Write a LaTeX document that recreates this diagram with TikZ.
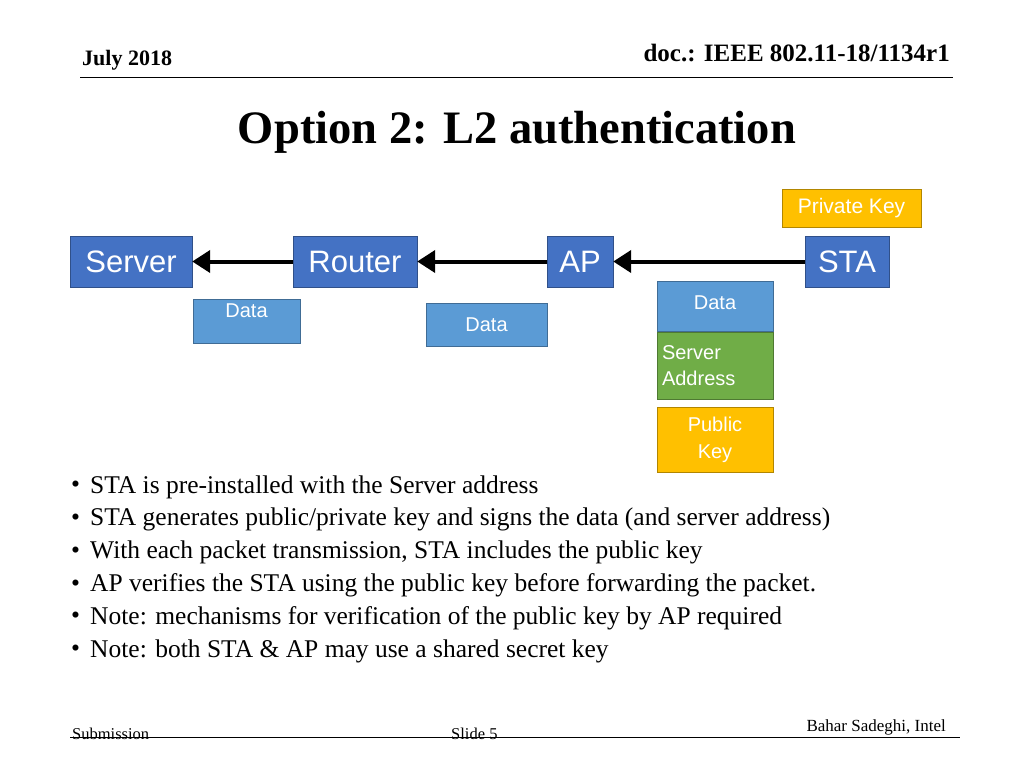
\documentclass[tikz,border=0pt]{standalone}
\usepackage{fontspec}
\setmainfont{Liberation Serif}
\newfontfamily\sans{Liberation Sans}
\usetikzlibrary{arrows.meta}
\definecolor{dblue}{HTML}{4472C4}
\definecolor{lblue}{HTML}{5B9BD5}
\definecolor{ggreen}{HTML}{70AD47}
\definecolor{gold}{HTML}{FFC000}
\begin{document}
\begin{tikzpicture}[x=1pt,y=-1pt,
  bx/.style={draw=#1!70!black,fill=#1,text=white,inner sep=0pt,font=\sans},
  arr/.style={line width=4pt,-{Triangle[length=18pt,width=22pt]}},
  bl/.style={anchor=west,font=\fontsize{25.5}{28}\selectfont,inner sep=0pt}]
\useasboundingbox (0,0) rectangle (1024,768);
\node[anchor=base west,font=\bfseries\fontsize{22}{24}\selectfont,inner sep=0] (date) at (82,66) {July 2018};
\node[anchor=base east,font=\bfseries\fontsize{25}{27}\selectfont,inner sep=0] (doc) at (950,61) {doc.: IEEE 802.11-18/1134r1};
\draw[line width=1pt] (80,77) -- (953,77);
\node[font=\bfseries\fontsize{46.5}{50}\selectfont,inner sep=0] (title) at (517,132) {Option 2: L2 authentication};
\node[bx=gold,minimum width=139,minimum height=38,font=\sans\fontsize{21}{23}\selectfont] (pk) at (851.5,208) {Private Key};
\node[bx=dblue,minimum width=122,minimum height=51,font=\sans\fontsize{31}{34}\selectfont] (server) at (131,261.5) {Server};
\node[bx=dblue,minimum width=124,minimum height=51,font=\sans\fontsize{31}{34}\selectfont] (router) at (355,261.5) {Router};
\node[bx=dblue,minimum width=66,minimum height=51,font=\sans\fontsize{31}{34}\selectfont] (ap) at (580,261.5) {AP};
\node[bx=dblue,minimum width=84,minimum height=51,font=\sans\fontsize{31}{34}\selectfont] (sta) at (847,261.5) {STA};
\node[bx=lblue,minimum width=107,minimum height=44,font=\sans\fontsize{20}{22}\selectfont,anchor=north,text depth=22pt] (d1) at (246.5,299) {Data};
\node[bx=lblue,minimum width=121,minimum height=43,font=\sans\fontsize{20}{22}\selectfont] (d2) at (486.5,324.5) {Data};
\node[bx=lblue,minimum width=116,minimum height=50,font=\sans\fontsize{20}{22}\selectfont,text depth=6pt] (d3) at (715,306) {Data};
\node[bx=ggreen,minimum width=116,minimum height=67,font=\sans\fontsize{20}{26}\selectfont,align=left,text width=106pt] (sa) at (715,366) {Server\\Address};
\node[bx=gold,minimum width=116,minimum height=65,font=\sans\fontsize{20}{27}\selectfont,align=center] (pub) at (715,439.5) {Public\\Key};
\draw[arr] (router.west) -- (server.east);
\draw[arr] (ap.west) -- (router.east);
\draw[arr] (sta.west) -- (ap.east);
\foreach \t [count=\i] in {STA is pre-installed with the Server address,
 STA generates public/private key and signs the data (and server address),
 {With each packet transmission, STA includes the public key},
 AP verifies the STA using the public key before forwarding the packet.,
 Note: mechanisms for verification of the public key by AP required,
 Note: both STA \& AP may use a shared secret key}
 {\node[bl] (b\i) at (90,487+32.8*\i-32.8) {\t};
  \node[bl] (u\i) at (71,487+32.8*\i-32.8) {\textbullet};}
\draw[line width=1pt] (70,737) -- (960,737);
\node[anchor=base west,font=\fontsize{16.5}{18}\selectfont,inner sep=0] (sub) at (72,739) {Submission};
\node[anchor=base west,font=\fontsize{16.5}{18}\selectfont,inner sep=0] (sl) at (451,739) {Slide 5};
\node[anchor=base east,font=\fontsize{17}{19}\selectfont,inner sep=0] (au) at (946,731) {Bahar Sadeghi, Intel};
\end{tikzpicture}
\end{document}
